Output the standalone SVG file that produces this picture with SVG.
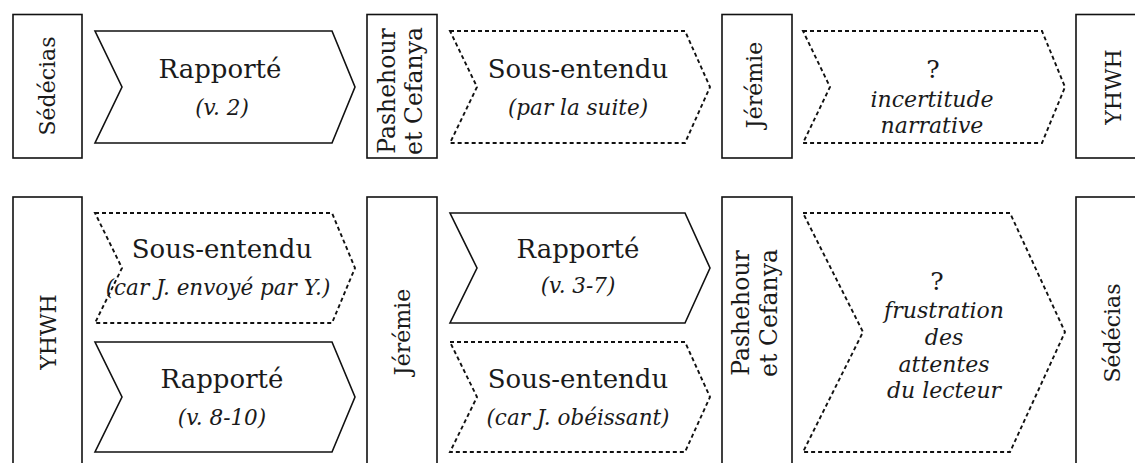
<svg xmlns="http://www.w3.org/2000/svg" width="1135" height="463" viewBox="0 0 1135 463">
<style>
  .box{fill:#fff;stroke:#111;stroke-width:1.6}
  .solid{fill:#fff;stroke:#111;stroke-width:1.6;stroke-linejoin:miter}
  .dash{fill:#fff;stroke:#111;stroke-width:1.9;stroke-dasharray:4 3}
  text{font-family:"DejaVu Serif","Liberation Serif",serif;fill:#1a1a1a;text-anchor:middle}
  .big{font-size:26px}
  .it{font-size:21.5px;font-style:italic}
  .it2{font-size:22px;font-style:italic}
  .q{font-size:25px}
  .lab{font-size:22px}
  .lab2{font-size:23.5px}
</style>
<rect width="1135" height="463" fill="#fff"/>
<g id="connectors"/>

<!-- Row 1 -->
<g id="sedecias1">
  <rect class="box" x="13" y="14.5" width="69" height="143.5"/>
  <text class="lab" transform="translate(55,86) rotate(-90)">Sédécias</text>
</g>
<g id="rapporte1">
  <polygon class="solid" points="95,31 332,31 355,87 332,143 95,143 122,87"/>
  <text class="big" x="220" y="78">Rapporté</text>
  <text class="it" x="222" y="115">(v. 2)</text>
</g>
<g id="pashehour1">
  <rect class="box" x="367" y="14.5" width="70" height="143.5"/>
  <text class="lab2" transform="translate(395,91) rotate(-90)">Pashehour</text>
  <text class="lab2" transform="translate(422,91) rotate(-90)">et Cefanya</text>
</g>
<g id="sousentendu1">
  <polygon class="dash" points="450,31 685,31 710,87 685,143 450,143 477,87"/>
  <text class="big" x="578" y="78">Sous-entendu</text>
  <text class="it" x="578" y="115">(par la suite)</text>
</g>
<g id="jeremie1">
  <rect class="box" x="722" y="14.5" width="70" height="143.5"/>
  <text class="lab" transform="translate(762,85) rotate(-90)">Jérémie</text>
</g>
<g id="incertitude">
  <polygon class="dash" points="803,31 1042,31 1065,87 1042,143 803,143 830,87"/>
  <text class="q" x="933" y="78">?</text>
  <text class="it2" x="932" y="107">incertitude</text>
  <text class="it2" x="932" y="133">narrative</text>
</g>
<g id="yhwh1">
  <rect class="box" x="1076" y="14.5" width="70" height="143.5"/>
  <text class="lab" transform="translate(1121,87) rotate(-90)">YHWH</text>
</g>

<!-- Row 2 -->
<g id="yhwh2">
  <rect class="box" x="13" y="197" width="69" height="280"/>
  <text class="lab" transform="translate(56,332) rotate(-90)">YHWH</text>
</g>
<g id="sousentendu2">
  <polygon class="dash" points="95,213 332,213 355,268 332,323 95,323 122,268"/>
  <text class="big" x="222" y="258">Sous-entendu</text>
  <text class="it" x="218" y="295">(car J. envoyé par Y.)</text>
</g>
<g id="rapporte2">
  <polygon class="solid" points="95,342 332,342 355,397 332,452 95,452 122,397"/>
  <text class="big" x="222" y="388">Rapporté</text>
  <text class="it" x="222" y="425">(v. 8-10)</text>
</g>
<g id="jeremie2">
  <rect class="box" x="367" y="197" width="70" height="280"/>
  <text class="lab" transform="translate(410,332) rotate(-90)">Jérémie</text>
</g>
<g id="rapporte3">
  <polygon class="solid" points="450,213 685,213 710,268 685,323 450,323 477,268"/>
  <text class="big" x="578" y="258">Rapporté</text>
  <text class="it" x="578" y="293">(v. 3-7)</text>
</g>
<g id="sousentendu3">
  <polygon class="dash" points="450,342 685,342 710,397 685,452 450,452 477,397"/>
  <text class="big" x="578" y="388">Sous-entendu</text>
  <text class="it" x="578" y="425">(car J. obéissant)</text>
</g>
<g id="pashehour2">
  <rect class="box" x="722" y="197" width="70" height="280"/>
  <text class="lab2" transform="translate(749,313) rotate(-90)">Pashehour</text>
  <text class="lab2" transform="translate(777,313) rotate(-90)">et Cefanya</text>
</g>
<g id="frustration">
  <polygon class="dash" points="803,213 1010,213 1065,332 1010,452 803,452 863,332"/>
  <text class="q" x="937" y="290">?</text>
  <text class="it2" x="944" y="318">frustration</text>
  <text class="it2" x="944" y="345">des</text>
  <text class="it2" x="944" y="372">attentes</text>
  <text class="it2" x="944" y="398">du lecteur</text>
</g>
<g id="sedecias2">
  <rect class="box" x="1076" y="197" width="70" height="280"/>
  <text class="lab" transform="translate(1120,333) rotate(-90)">Sédécias</text>
</g>
</svg>
